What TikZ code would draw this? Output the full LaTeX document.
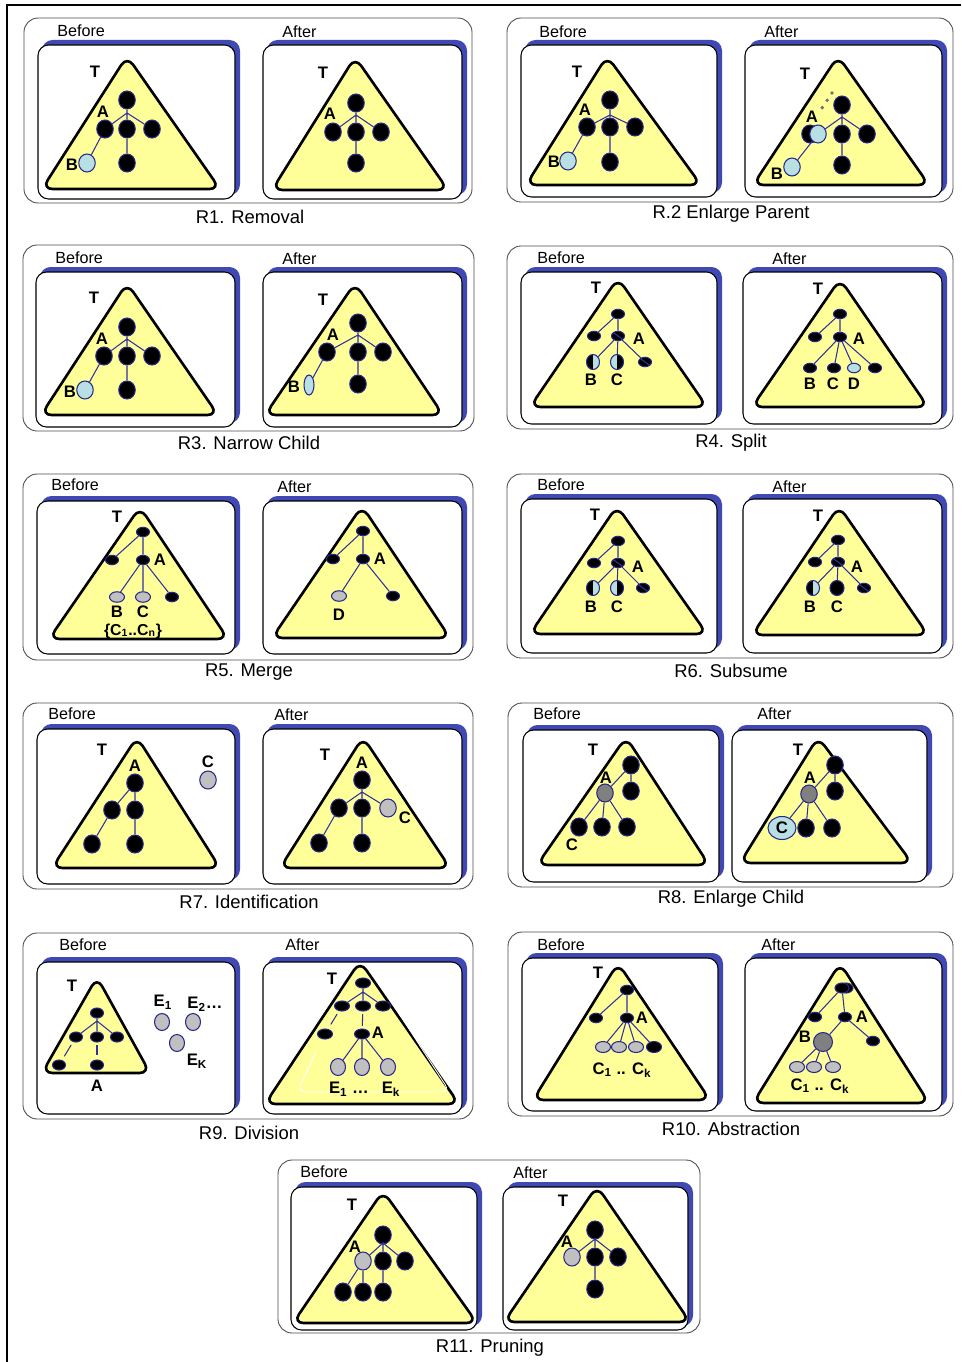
\documentclass[tikz,border=0pt]{standalone}
\usepackage{fontspec}
\setmainfont{Liberation Sans}
\usetikzlibrary{shapes.geometric}

\definecolor{triyellow}{RGB}{255,255,153}
\definecolor{shadeblue}{RGB}{64,72,180}
\definecolor{nodeline}{RGB}{40,40,140}
\definecolor{edgeblue}{RGB}{48,48,160}
\definecolor{paleblue}{RGB}{184,224,228}
\definecolor{lightgrey}{RGB}{192,192,192}
\definecolor{midgrey}{RGB}{128,128,128}

% outer frame of one rule, with its caption
\newcommand{\rframe}[8]{\draw[outbox] (#2,#3) rectangle (#4,#5);
  \node[caption] (#1) at (#6,#7) {#8};}
% one before/after screen with its blue shadow
\newcommand{\shotbox}[8]{\fill[shadeblue,rounded corners=6pt] (#2+4,#3-5) rectangle (#4+5,#5-4);
  \draw[inbox] (#2,#3) rectangle (#4,#5);
  \node[stage] (#1) at (#6,#7) {#8};}
% yellow tree triangle: apex x, apex y, base y, left x, right x
\newcommand{\trishape}[5]{\draw[tri] (#1,#2-6) -- (#5+5,#3) -- (#4-5,#3) -- cycle;}

\begin{document}
\begin{tikzpicture}[x=0.02cm,y=-0.02cm,
outbox/.style={draw=black!70,line width=0.5pt,rounded corners=8pt},
inbox/.style={draw=black,fill=white,line width=0.6pt,rounded corners=6pt},
stage/.style={anchor=west,inner sep=0,font=\fontsize{9.2}{10}\selectfont},
caption/.style={inner sep=0,font=\fontsize{10.5}{12}\selectfont},
tri/.style={draw=black,line width=1.5pt,fill=triyellow,rounded corners=6pt,line join=round},
bn/.style={ellipse,draw=nodeline,line width=0.6pt,fill=black,inner sep=0,minimum width=0.33cm,minimum height=0.36cm},
sn/.style={bn,minimum width=0.26cm,minimum height=0.19cm},
hn/.style={bn,minimum width=0.26cm,minimum height=0.30cm},
en/.style={bn,fill=lightgrey,minimum width=0.30cm,minimum height=0.34cm},
ltb/.style={fill=paleblue},
gry/.style={fill=lightgrey},
dgry/.style={fill=midgrey},
slash/.style={path picture={\draw[edgeblue,line width=0.6pt] (path picture bounding box.north west) -- (path picture bounding box.south east);}},
halfL/.style={fill=paleblue,path picture={\fill[black] (path picture bounding box.south west) rectangle (path picture bounding box.north);}},
halfR/.style={fill=paleblue,path picture={\fill[black] (path picture bounding box.south) rectangle (path picture bounding box.north east);}},
lab/.style={inner sep=0,font=\bfseries\fontsize{9.5}{10}\selectfont},
ln/.style={draw=edgeblue,line width=0.6pt}]
\useasboundingbox (0,0) rectangle (961,1362);
\draw[line width=1.7pt] (7,1362) -- (7,5) -- (961,5);

% R1
\rframe{c1}{24}{18}{472}{203}{250}{217}{R1. Removal}
\shotbox{s1b}{38}{45}{235}{199}{57}{31}{Before}
\shotbox{s1a}{263}{45}{462}{199}{282}{32}{After}
\trishape{127}{62}{189}{47}{215}
\node[lab] (b1T) at (95,72) {T};
\node[lab] (b1a) at (103,112) {A};
\node[lab] (b1b) at (72,165) {B};
\node[bn] (b1r) at (127,100) {};
\coordinate (b1j) at (127,113);
\node[bn] (b1A) at (105,129) {};
\node[bn] (b1c) at (127,129) {};
\node[bn] (b1e) at (152,129) {};
\node[bn] (b1d) at (127,163) {};
\node[bn,ltb] (b1B) at (87,163) {};
\draw[ln] (b1r) -- (b1j) -- (b1A) (b1j) -- (b1c) (b1j) -- (b1e);
\draw[ln] (b1c) -- (b1d) (b1A) -- (b1B);
\trishape{355}{63}{190}{277}{443}
\node[lab] (a1T) at (323,73) {T};
\node[lab] (a1a) at (330,114) {A};
\node[bn] (a1r) at (356,103) {};
\coordinate (a1j) at (356,115);
\node[bn] (a1A) at (333,132) {};
\node[bn] (a1c) at (356,132) {};
\node[bn] (a1e) at (381,132) {};
\node[bn] (a1d) at (356,163) {};
\draw[ln] (a1r) -- (a1j) -- (a1A) (a1j) -- (a1c) (a1j) -- (a1e) (a1c) -- (a1d);

% R2
\rframe{c2}{507}{18}{953}{202}{731}{214}{R.2 Enlarge Parent}
\shotbox{s2b}{521}{45}{717}{197}{539}{32}{Before}
\shotbox{s2a}{745}{45}{942}{197}{764}{32}{After}
\trishape{607}{62}{185}{531}{696}
\node[lab] (b2T) at (577,72) {T};
\node[lab] (b2a) at (585,110) {A};
\node[lab] (b2b) at (554,162) {B};
\node[bn] (b2r) at (610,100) {};
\coordinate (b2j) at (610,115);
\node[bn] (b2A) at (587,127) {};
\node[bn] (b2c) at (610,127) {};
\node[bn] (b2e) at (635,127) {};
\node[bn] (b2d) at (610,162) {};
\node[bn,ltb] (b2B) at (568,161) {};
\draw[ln] (b2r) -- (b2j) -- (b2A) (b2j) -- (b2c) (b2j) -- (b2e);
\draw[ln] (b2c) -- (b2d) (b2A) -- (b2B);
\trishape{838}{62}{185}{758}{924}
\node[lab] (a2T) at (805,74) {T};
\node[lab] (a2a) at (812,117) {A};
\node[lab] (a2b) at (777,174) {B};
\coordinate (a2u) at (832,93);
\coordinate (a2v) at (822,108);
\draw[black!55,line width=2.2pt,line cap=round,dash pattern=on 0pt off 5pt] (a2u) -- (a2v);
\node[bn] (a2r) at (842,105) {};
\coordinate (a2j) at (842,117);
\node[bn] (a2A) at (810,134) {};
\node[bn,ltb] (a2P) at (818,134) {};
\node[bn] (a2c) at (842,134) {};
\node[bn] (a2e) at (867,134) {};
\node[bn] (a2d) at (842,165) {};
\node[bn,ltb] (a2B) at (792,167) {};
\draw[ln] (a2r) -- (a2j) -- (a2P) (a2j) -- (a2c) (a2j) -- (a2e);
\draw[ln] (a2c) -- (a2d) (a2P) -- (a2B);

% R3
\rframe{c3}{23}{245}{474}{431}{249}{443}{R3. Narrow Child}
\shotbox{s3b}{36}{272}{235}{427}{55}{258}{Before}
\shotbox{s3a}{263}{272}{462}{427}{282}{259}{After}
\trishape{127}{289}{415}{46}{213}
\node[lab] (b3T) at (94,298) {T};
\node[lab] (b3a) at (102,339) {A};
\node[lab] (b3b) at (70,392) {B};
\node[bn] (b3r) at (127,327) {};
\coordinate (b3j) at (127,339);
\node[bn] (b3A) at (104,356) {};
\node[bn] (b3c) at (127,356) {};
\node[bn] (b3e) at (152,356) {};
\node[bn] (b3d) at (127,390) {};
\node[bn,ltb] (b3B) at (85,390) {};
\draw[ln] (b3r) -- (b3j) -- (b3A) (b3j) -- (b3c) (b3j) -- (b3e);
\draw[ln] (b3c) -- (b3d) (b3A) -- (b3B);
\trishape{355}{289}{415}{270}{438}
\node[lab] (a3T) at (323,300) {T};
\node[lab] (a3a) at (333,335) {A};
\node[lab] (a3b) at (294,387) {B};
\node[bn] (a3r) at (358,323) {};
\coordinate (a3j) at (358,335);
\node[bn] (a3A) at (327,352) {};
\node[bn] (a3c) at (358,352) {};
\node[bn] (a3e) at (383,352) {};
\node[bn] (a3d) at (358,384) {};
\node[bn,ltb,minimum width=0.2cm,minimum height=0.4cm] (a3B) at (309,385) {};
\draw[ln] (a3r) -- (a3j) -- (a3A) (a3j) -- (a3c) (a3j) -- (a3e);
\draw[ln] (a3c) -- (a3d) (a3A) -- (a3B);

% R4
\rframe{c4}{507}{246}{953}{429}{731}{443}{R4. Split}
\shotbox{s4b}{521}{272}{717}{424}{537}{258}{Before}
\shotbox{s4a}{743}{272}{942}{424}{772}{259}{After}
\trishape{618}{284}{407}{535}{702}
\node[lab] (b4T) at (596,288) {T};
\node[lab] (b4a) at (639,339) {A};
\node[lab] (b4b) at (591,380) {B};
\node[lab] (b4c) at (617,380) {C};
\node[sn] (b4r) at (618,314) {};
\node[sn] (b4l) at (594,336) {};
\node[sn,slash] (b4A) at (618,336) {};
\node[hn,halfL] (b4B) at (593,362) {};
\node[hn,halfR] (b4C) at (617,362) {};
\node[sn,slash] (b4e) at (645,362) {};
\draw[ln] (b4r) -- (b4l) (b4r) -- (b4A) (b4A) -- (b4B) (b4A) -- (b4C) (b4A) -- (b4e);
\trishape{840}{285}{407}{757}{923}
\node[lab] (a4T) at (818,289) {T};
\node[lab] (a4a) at (859,339) {A};
\node[lab] (a4b) at (810,384) {B};
\node[lab] (a4c) at (833,384) {C};
\node[lab] (a4d) at (854,384) {D};
\node[sn] (a4r) at (840,314) {};
\node[sn] (a4l) at (815,337) {};
\node[sn] (a4A) at (840,337) {};
\node[sn] (a4B) at (810,368) {};
\node[sn] (a4C) at (834,368) {};
\node[sn,ltb] (a4D) at (854,368) {};
\node[sn] (a4e) at (875,368) {};
\draw[ln] (a4r) -- (a4l) (a4r) -- (a4A) (a4A) -- (a4B) (a4A) -- (a4C) (a4A) -- (a4D) (a4A) -- (a4e);

% R5
\rframe{c5}{23}{474}{473}{660}{249}{672}{R5. Merge}
\shotbox{s5b}{37}{501}{235}{654}{51}{485}{Before}
\shotbox{s5a}{263}{501}{462}{654}{277}{487}{After}
\trishape{140}{513}{639}{54}{223}
\node[lab] (b5T) at (117,517) {T};
\node[lab] (b5a) at (160,560) {A};
\node[lab] (b5b) at (117,612) {B};
\node[lab] (b5c) at (143,612) {C};
\node[lab,font=\bfseries\fontsize{9}{9}\selectfont] (b5s) at (133,631) {\{C\textsubscript{1}..C\textsubscript{n}\}};
\node[sn] (b5r) at (143,532) {};
\node[sn] (b5l) at (112,560) {};
\node[sn] (b5A) at (143,560) {};
\node[sn,gry,minimum width=0.3cm,minimum height=0.21cm] (b5B) at (117,597) {};
\node[sn,gry,minimum width=0.3cm,minimum height=0.21cm] (b5C) at (143,597) {};
\node[sn] (b5e) at (172,597) {};
\draw[ln] (b5r) -- (b5l) (b5r) -- (b5A) (b5A) -- (b5B) (b5A) -- (b5C) (b5A) -- (b5e);
\trishape{362}{512}{638}{277}{445}
\node[lab] (a5a) at (380,559) {A};
\node[lab] (a5d) at (339,615) {D};
\node[sn] (a5r) at (363,531) {};
\node[sn] (a5l) at (333,559) {};
\node[sn] (a5A) at (363,559) {};
\node[sn,gry,minimum width=0.3cm,minimum height=0.21cm] (a5D) at (339,596) {};
\node[sn] (a5e) at (393,596) {};
\draw[ln] (a5r) -- (a5l) (a5r) -- (a5A) (a5A) -- (a5D) (a5A) -- (a5e);

% R6
\rframe{c6}{507}{474}{953}{658}{731}{671}{R6. Subsume}
\shotbox{s6b}{521}{499}{717}{653}{537}{485}{Before}
\shotbox{s6a}{743}{499}{942}{653}{772}{487}{After}
\trishape{617}{512}{634}{535}{702}
\node[lab] (b6T) at (595,515) {T};
\node[lab] (b6a) at (638,567) {A};
\node[lab] (b6b) at (591,607) {B};
\node[lab] (b6c) at (617,607) {C};
\node[sn] (b6r) at (618,541) {};
\node[sn] (b6l) at (594,563) {};
\node[sn,slash] (b6A) at (618,563) {};
\node[hn,halfL] (b6B) at (593,588) {};
\node[hn,halfR] (b6C) at (617,588) {};
\node[sn,slash] (b6e) at (643,588) {};
\draw[ln] (b6r) -- (b6l) (b6r) -- (b6A) (b6A) -- (b6B) (b6A) -- (b6C) (b6A) -- (b6e);
\trishape{839}{512}{635}{757}{923}
\node[lab] (a6T) at (818,516) {T};
\node[lab] (a6a) at (857,567) {A};
\node[lab] (a6b) at (810,607) {B};
\node[lab] (a6c) at (837,607) {C};
\node[sn] (a6r) at (838,540) {};
\node[sn] (a6l) at (815,562) {};
\node[sn,slash] (a6A) at (838,562) {};
\node[hn,halfL] (a6B) at (813,588) {};
\node[hn,minimum width=0.28cm] (a6C) at (837,588) {};
\node[sn,slash] (a6e) at (864,588) {};
\draw[ln] (a6r) -- (a6l) (a6r) -- (a6A) (a6A) -- (a6B) (a6A) -- (a6C) (a6A) -- (a6e);

% R7
\rframe{c7}{23}{703}{473}{889}{249}{902}{R7. Identification}
\shotbox{s7b}{37}{729}{235}{884}{48}{714}{Before}
\shotbox{s7a}{263}{729}{462}{884}{274}{715}{After}
\trishape{137}{743}{868}{57}{215}
\node[lab] (b7T) at (102,750) {T};
\node[lab] (b7a) at (135,766) {A};
\node[lab] (b7k) at (208,762) {C};
\node[bn] (b7A) at (135,783) {};
\node[bn] (b7c) at (112,810) {};
\node[bn] (b7e) at (135,810) {};
\node[bn] (b7d) at (92,844) {};
\node[bn] (b7f) at (135,844) {};
\node[bn,gry] (b7C) at (208,780) {};
\draw[ln] (b7A) -- (b7c) (b7A) -- (b7e) (b7c) -- (b7d) (b7e) -- (b7f);
\trishape{363}{743}{868}{285}{445}
\node[lab] (a7T) at (325,755) {T};
\node[lab] (a7a) at (362,763) {A};
\node[lab] (a7k) at (405,818) {C};
\node[bn] (a7A) at (362,780) {};
\coordinate (a7j) at (362,792);
\node[bn] (a7c) at (339,808) {};
\node[bn] (a7e) at (362,808) {};
\node[bn,gry] (a7C) at (388,808) {};
\node[bn] (a7d) at (319,843) {};
\node[bn] (a7f) at (362,843) {};
\draw[ln] (a7A) -- (a7j) -- (a7c) (a7j) -- (a7e) (a7j) -- (a7C) (a7c) -- (a7d) (a7e) -- (a7f);

% R8
\rframe{c8}{508}{703}{953}{887}{731}{899}{R8. Enlarge Child}
\shotbox{s8b}{523}{730}{719}{882}{533}{714}{Before}
\shotbox{s8a}{732}{730}{927}{882}{757}{714}{After}
\trishape{626}{743}{865}{542}{704}
\node[lab] (b8T) at (593,750) {T};
\node[lab] (b8a) at (606,778) {A};
\node[lab] (b8k) at (572,845) {C};
\node[bn] (b8r) at (631,765) {};
\node[bn,dgry] (b8A) at (605,793) {};
\node[bn] (b8s) at (631,791) {};
\node[bn] (b8C) at (579,827) {};
\node[bn] (b8c) at (602,827) {};
\node[bn] (b8e) at (627,827) {};
\draw[ln] (b8r) -- (b8A) (b8r) -- (b8s) (b8A) -- (b8C) (b8A) -- (b8c) (b8A) -- (b8e);
\trishape{818}{743}{863}{745}{907}
\node[lab] (a8T) at (798,750) {T};
\node[lab] (a8a) at (810,778) {A};
\node[bn] (a8r) at (835,765) {};
\node[bn,dgry] (a8A) at (809,794) {};
\node[bn] (a8s) at (835,791) {};
\node[bn,ltb,minimum width=0.56cm,minimum height=0.46cm,font=\bfseries\fontsize{9.5}{10}\selectfont] (a8C) at (782,828) {C};
\node[bn] (a8c) at (806,828) {};
\node[bn] (a8e) at (832,828) {};
\draw[ln] (a8r) -- (a8A) (a8r) -- (a8s) (a8A) -- (a8C) (a8A) -- (a8c) (a8A) -- (a8e);

% R9
\rframe{c9}{23}{933}{473}{1119}{249}{1133}{R9. Division}
\shotbox{s9b}{37}{962}{235}{1114}{59}{945}{Before}
\shotbox{s9a}{263}{962}{462}{1114}{285}{945}{After}
\trishape{97}{983}{1073}{47}{145}
\node[lab] (b9T) at (72,986) {T};
\node[lab] (b9a) at (97,1086) {A};
\node[lab] (b9x) at (163,1002) {E\textsubscript{1}};
\node[lab] (b9y) at (205,1004) {E\textsubscript{2}\ldots};
\node[lab] (b9z) at (197,1061) {E\textsubscript{K}};
\node[sn,minimum height=0.2cm] (b9r) at (97,1013) {};
\coordinate (b9j) at (97,1021);
\node[sn,minimum height=0.2cm] (b9c) at (76,1037) {};
\node[sn,minimum height=0.2cm] (b9e) at (97,1037) {};
\node[sn,minimum height=0.2cm] (b9f) at (117,1037) {};
\node[sn,minimum height=0.2cm] (b9g) at (59,1065) {};
\node[sn,minimum height=0.2cm] (b9A) at (97,1065) {};
\node[en] (b9E) at (162,1022) {};
\node[en] (b9F) at (193,1022) {};
\node[en] (b9K) at (177,1043) {};
\draw[ln] (b9r) -- (b9j) -- (b9c) (b9j) -- (b9e) (b9j) -- (b9f);
\draw[ln,shorten <=2pt,shorten >=2.5pt] (b9c) -- (b9g);
\draw[ln,shorten <=1.5pt,shorten >=2.5pt] (b9e) -- (b9A);
\trishape{360}{967}{1104}{270}{454}
\draw[white,line width=0.5pt,rounded corners=5pt] (316,1052) -- (297,1092) -- (450,1092) -- (372,972);
\node[lab] (a9T) at (332,979) {T};
\node[lab] (a9a) at (378,1033) {A};
\node[lab] (a9x) at (349,1089) {E\textsubscript{1} \ldots};
\node[lab] (a9z) at (391,1089) {E\textsubscript{k}};
\node[sn,minimum width=0.3cm,minimum height=0.2cm] (a9r) at (363,983) {};
\coordinate (a9j) at (363,992);
\node[sn,minimum width=0.3cm,minimum height=0.2cm] (a9c) at (342,1006) {};
\node[sn,minimum width=0.3cm,minimum height=0.2cm] (a9e) at (363,1006) {};
\node[sn,minimum width=0.3cm,minimum height=0.2cm] (a9f) at (383,1006) {};
\node[sn,minimum width=0.3cm,minimum height=0.2cm] (a9g) at (325,1034) {};
\node[sn,minimum width=0.3cm,minimum height=0.2cm] (a9A) at (362,1034) {};
\node[en] (a9E) at (338,1067) {};
\node[en] (a9F) at (362,1067) {};
\node[en] (a9K) at (388,1067) {};
\draw[ln] (a9r) -- (a9j) -- (a9c) (a9j) -- (a9e) (a9j) -- (a9f);
\draw[ln,shorten <=2pt,shorten >=3pt] (a9c) -- (a9g);
\draw[ln,shorten <=1.5pt,shorten >=1.5pt] (a9e) -- (a9A);
\draw[ln] (a9A) -- (a9E) (a9A) -- (a9F) (a9A) -- (a9K);

% R10
\rframe{c10}{508}{932}{953}{1116}{731}{1129}{R10. Abstraction}
\shotbox{s10b}{522}{958}{718}{1111}{537}{945}{Before}
\shotbox{s10a}{745}{958}{942}{1111}{761}{945}{After}
\trishape{618}{969}{1100}{538}{705}
\node[lab] (b10T) at (598,973) {T};
\node[lab] (b10a) at (642,1018) {A};
\node[lab] (b10k) at (622,1070) {C\textsubscript{1} .. C\textsubscript{k}};
\node[sn] (b10r) at (627,990) {};
\node[sn] (b10l) at (596,1018) {};
\node[sn] (b10A) at (627,1018) {};
\node[sn,gry,minimum width=0.3cm,minimum height=0.22cm] (b10C) at (603,1047) {};
\node[sn,gry,minimum width=0.3cm,minimum height=0.22cm] (b10D) at (619,1047) {};
\node[sn,gry,minimum width=0.3cm,minimum height=0.22cm] (b10E) at (636,1047) {};
\node[sn,minimum width=0.3cm,minimum height=0.22cm] (b10e) at (654,1047) {};
\draw[ln] (b10r) -- (b10l) (b10r) -- (b10A) (b10A) -- (b10C) (b10A) -- (b10D) (b10A) -- (b10E) (b10A) -- (b10e);
\trishape{840}{969}{1103}{758}{924}
\node[lab] (a10a) at (862,1017) {A};
\node[lab] (a10b) at (805,1037) {B};
\node[lab] (a10k) at (820,1086) {C\textsubscript{1} .. C\textsubscript{k}};
\node[sn,minimum width=0.28cm,minimum height=0.2cm] (a10q) at (846,988) {};
\node[sn,minimum width=0.28cm,minimum height=0.2cm] (a10r) at (842,988) {};
\node[sn] (a10l) at (815,1017) {};
\node[sn] (a10A) at (845,1017) {};
\node[sn] (a10e) at (873,1041) {};
\node[bn,dgry,minimum width=0.38cm,minimum height=0.38cm] (a10B) at (823,1042) {};
\node[sn,gry,minimum width=0.3cm,minimum height=0.22cm] (a10C) at (797,1067) {};
\node[sn,gry,minimum width=0.3cm,minimum height=0.22cm] (a10D) at (814,1067) {};
\node[sn,gry,minimum width=0.3cm,minimum height=0.22cm] (a10E) at (833,1067) {};
\draw[ln] (a10r) -- (a10l) (a10r) -- (a10A) (a10A) -- (a10B) (a10A) -- (a10e);
\draw[ln] (a10B) -- (a10C) (a10B) -- (a10D) (a10B) -- (a10E);

% R11
\rframe{c11}{278}{1160}{700}{1333}{490}{1348}{R11. Pruning}
\shotbox{s11b}{291}{1187}{477}{1330}{300}{1172}{Before}
\shotbox{s11a}{503}{1187}{688}{1330}{513}{1173}{After}
\trishape{383}{1197}{1323}{298}{472}
\node[lab] (b11T) at (352,1205) {T};
\node[lab] (b11a) at (355,1247) {A};
\node[bn] (b11r) at (383,1235) {};
\coordinate (b11j) at (383,1243);
\node[bn,gry] (b11A) at (363,1261) {};
\node[bn] (b11c) at (383,1261) {};
\node[bn] (b11e) at (405,1261) {};
\node[bn] (b11g) at (343,1292) {};
\node[bn] (b11h) at (363,1292) {};
\node[bn] (b11d) at (383,1292) {};
\draw[ln] (b11r) -- (b11j) -- (b11A) (b11j) -- (b11c) (b11j) -- (b11e);
\draw[ln] (b11A) -- (b11g) (b11A) -- (b11h) (b11c) -- (b11d);
\trishape{597}{1192}{1322}{509}{685}
\node[lab] (a11T) at (563,1201) {T};
\node[lab] (a11a) at (567,1242) {A};
\node[bn] (a11r) at (595,1230) {};
\coordinate (a11j) at (595,1239);
\node[bn,gry] (a11A) at (572,1257) {};
\node[bn] (a11c) at (595,1257) {};
\node[bn] (a11e) at (618,1257) {};
\node[bn] (a11d) at (595,1289) {};
\draw[ln] (a11r) -- (a11j) -- (a11A) (a11j) -- (a11c) (a11j) -- (a11e) (a11c) -- (a11d);
\end{tikzpicture}
\end{document}
